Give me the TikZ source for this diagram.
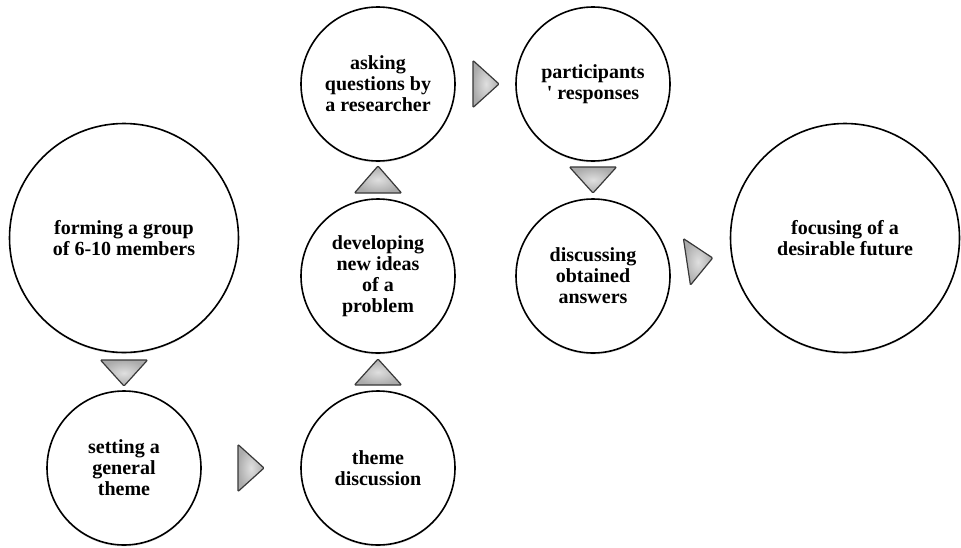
\documentclass[tikz,border=0pt]{standalone}
\usepackage{fontspec}
\newfontfamily\lbs{Liberation Serif}
\usetikzlibrary{calc,shadows}
\newcommand{\flowtri}[4]{%
  \coordinate (tb) at ($(#1)!#3pt!(#2)$);
  \coordinate (ta) at ($(#1)!#4pt!(#2)$);
  \draw[tristyle] ($(tb)!23.5pt!90:(ta)$) -- (ta) -- ($(tb)!23.5pt!-90:(ta)$) -- cycle;}
\begin{document}
\begin{tikzpicture}[x=1pt,y=-1pt,
  stage/.style={circle, draw=black, line width=1.6pt, fill=white, inner sep=0pt, align=center,
    font=\lbs\bfseries\fontsize{20}{21}\selectfont,
    drop shadow={shadow xshift=0pt, shadow yshift=-1.5pt, opacity=0.2}},
  small/.style={stage, minimum size=154pt},
  big/.style={stage, minimum size=229pt},
  tristyle/.style={draw=black!78, line width=1.2pt, rounded corners=1pt, inner color=gray!25, outer color=gray!66}]
\useasboundingbox (0,0) rectangle (961,547);
\fill[white] (0,0) rectangle (961,547);

\node[big]   (form) at (124,238) {forming a group\\of 6-10 members};
\node[small] (set)  at (124,468) {setting a\\general\\theme};
\node[small] (thm)  at (378,468) {theme\\discussion};
\node[small] (dev)  at (378,276) {developing\\new ideas\\of a\\problem};
\node[small] (ask)  at (378,84)  {asking\\questions by\\a researcher};
\node[small] (par)  at (593,84)  {participants\\' responses};
\node[small] (dis)  at (593,276) {discussing\\obtained\\answers};
\node[big]   (foc)  at (845,238) {focusing of a\\desirable future};

\flowtri{form}{set}{122}{148}
\flowtri{set}{thm}{114}{140}
\flowtri{thm}{dev}{83}{109}
\flowtri{dev}{ask}{83}{110}
\flowtri{ask}{par}{95}{121}
\flowtri{par}{dis}{83}{109}
\flowtri{dis}{foc}{95}{121}
\end{tikzpicture}
\end{document}
